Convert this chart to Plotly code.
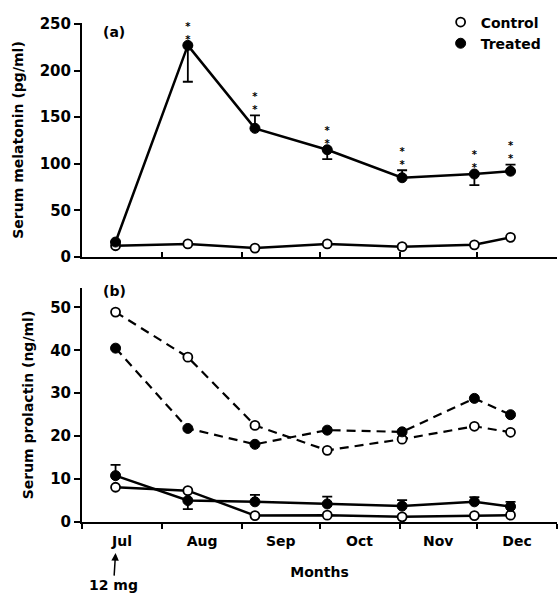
import plotly.graph_objects as go

# Sampling dates (treatment of 12 mg at first sampling in July)
dates = ["2000-07-14", "2000-08-11", "2000-09-06", "2000-10-04",
         "2000-11-02", "2000-11-30", "2000-12-14"]

# (a) Serum melatonin (pg/ml)
mel_control = [12, 14, 9.5, 14, 11, 13, 21]
mel_treated = [16, 227, 138, 115, 85, 89, 92]
mel_treated_err_up = [0, 0, 14, 0, 8, 0, 7]
mel_treated_err_dn = [0, 39, 0, 10, 0, 12, 0]
mel_stars = ["", "*<br>*", "*<br>*", "*<br>*", "*<br>*", "*<br>*", "*<br>*"]

# (b) Serum prolactin (ng/ml)
prl_control_dash = [48.9, 38.4, 22.5, 16.7, 19.3, 22.3, 20.9]
prl_treated_dash = [40.5, 21.8, 18.1, 21.4, 21.0, 28.8, 25.0]
prl_control_solid = [8.1, 7.3, 1.5, 1.6, 1.2, 1.5, 1.6]
prl_treated_solid = [10.8, 5.0, 4.7, 4.2, 3.7, 4.7, 3.6]
prl_treated_err_up = [2.5, 0, 1.6, 1.7, 1.4, 1.1, 1.1]
prl_treated_err_dn = [0, 2.0, 0, 0, 0, 0, 0]

FONT = "DejaVu Sans"
BLACK = "black"
open_marker = dict(symbol="circle", size=9, color="white", line=dict(color=BLACK, width=1.8))
fill_marker = dict(symbol="circle", size=10, color=BLACK, line=dict(color=BLACK, width=1))

fig = go.Figure()

# --- panel (a)
fig.add_trace(go.Scatter(x=dates, y=mel_control, mode="lines+markers", xaxis="x", yaxis="y",
                         line=dict(color=BLACK, width=2.5), marker=open_marker,
                         showlegend=False, cliponaxis=False))
fig.add_trace(go.Scatter(x=dates, y=mel_treated, mode="lines+markers", xaxis="x", yaxis="y",
                         line=dict(color=BLACK, width=2.5), marker=fill_marker,
                         error_y=dict(type="data", symmetric=False, array=mel_treated_err_up,
                                      arrayminus=mel_treated_err_dn, color=BLACK,
                                      thickness=1.8, width=5),
                         showlegend=False, cliponaxis=False))
fig.add_trace(go.Scatter(x=dates, y=[v + e for v, e in zip(mel_treated, mel_treated_err_up)],
                         mode="text", text=mel_stars, textposition="top center",
                         textfont=dict(family=FONT, size=10, color=BLACK, weight="bold"),
                         xaxis="x", yaxis="y", showlegend=False, cliponaxis=False))

# legend entries
fig.add_trace(go.Scatter(x=[None], y=[None], mode="markers", marker=open_marker,
                         name="Control", xaxis="x", yaxis="y"))
fig.add_trace(go.Scatter(x=[None], y=[None], mode="markers", marker=fill_marker,
                         name="Treated", xaxis="x", yaxis="y"))

# --- panel (b)
dash = "9px,6px"
fig.add_trace(go.Scatter(x=dates, y=prl_control_dash, mode="lines+markers", xaxis="x2", yaxis="y2",
                         line=dict(color=BLACK, width=2.2, dash=dash), marker=open_marker,
                         showlegend=False, cliponaxis=False))
fig.add_trace(go.Scatter(x=dates, y=prl_treated_dash, mode="lines+markers", xaxis="x2", yaxis="y2",
                         line=dict(color=BLACK, width=2.2, dash=dash), marker=fill_marker,
                         showlegend=False, cliponaxis=False))
fig.add_trace(go.Scatter(x=dates, y=prl_control_solid, mode="lines+markers", xaxis="x2", yaxis="y2",
                         line=dict(color=BLACK, width=2.5), marker=open_marker,
                         showlegend=False, cliponaxis=False))
fig.add_trace(go.Scatter(x=dates, y=prl_treated_solid, mode="lines+markers", xaxis="x2", yaxis="y2",
                         line=dict(color=BLACK, width=2.5), marker=fill_marker,
                         error_y=dict(type="data", symmetric=False, array=prl_treated_err_up,
                                      arrayminus=prl_treated_err_dn, color=BLACK,
                                      thickness=1.8, width=5),
                         showlegend=False, cliponaxis=False))

xcommon = dict(type="date", range=["2000-07-01", "2001-01-01"], dtick="M1",
               tick0="2000-07-01", showline=True, linecolor=BLACK, linewidth=2,
               showgrid=False, zeroline=False, tickcolor=BLACK, tickwidth=1.5, ticklen=5)

fig.update_layout(
    width=558, height=594,
    margin=dict(l=82, r=1, t=20, b=72),
    paper_bgcolor="white", plot_bgcolor="white",
    font=dict(family=FONT, size=14, color=BLACK, weight="bold"),
    showlegend=True,
    legend=dict(x=0.755, y=1.027, xanchor="left", yanchor="top",
                bgcolor="rgba(0,0,0,0)", font=dict(size=14, family=FONT, weight="bold"),
                itemwidth=30, tracegroupgap=0),
    xaxis=dict(**xcommon, anchor="y", ticks="inside", showticklabels=False),
    yaxis=dict(domain=[0.528, 0.994], range=[0, 251], tickvals=[0, 50, 100, 150, 200, 250],
               showline=True, linecolor=BLACK, linewidth=2, ticks="outside",
               tickcolor=BLACK, tickwidth=1.5, ticklen=6, showgrid=False, zeroline=False,
               tickfont=dict(size=15),
               title=dict(text="Serum melatonin (pg/ml)", font=dict(size=14), standoff=13)),
    xaxis2=dict(**xcommon, anchor="y2", matches="x", ticks="outside", showticklabels=True,
                tickformat="%b", ticklabelmode="period", tickfont=dict(size=14),
                title=dict(text="Months", font=dict(size=14), standoff=19)),
    yaxis2=dict(domain=[0, 0.466], range=[0, 54.5], tickvals=[0, 10, 20, 30, 40, 50],
                showline=True, linecolor=BLACK, linewidth=2, ticks="outside",
                tickcolor=BLACK, tickwidth=1.5, ticklen=6, showgrid=False, zeroline=False,
                tickfont=dict(size=15),
                title=dict(text="Serum prolactin (ng/ml)", font=dict(size=14), standoff=13)),
    annotations=[
        dict(text="(a)", x=0.04, y=0.996, xref="paper", yref="paper", xanchor="left",
             yanchor="top", showarrow=False, font=dict(size=14)),
        dict(text="(b)", x=0.04, y=0.48, xref="paper", yref="paper", xanchor="left",
             yanchor="top", showarrow=False, font=dict(size=14)),
        dict(text="12 mg", x=dates[0], y=-0.062, xref="x2", yref="paper",
             showarrow=True, arrowhead=2, arrowsize=1, arrowwidth=1.5, arrowcolor=BLACK,
             ax=-2, ay=32, font=dict(size=14)),
    ],
)

fig.write_html("out.html")
